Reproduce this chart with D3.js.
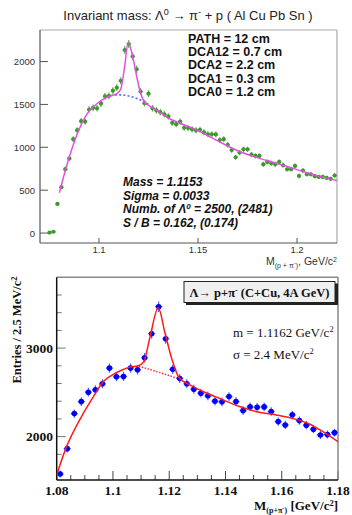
<!DOCTYPE html>
<html><head><meta charset="utf-8">
<script src="https://cdn.jsdelivr.net/npm/d3@7"></script>
<style>body{margin:0;background:#fff}svg{display:block}</style>
</head><body>
<script>
// ---------- Top panel data (bin width 2 MeV) ----------
const topMass = [1.075,1.077,1.079,1.081,1.083,1.085,1.087,1.089,1.091,1.093,1.095,1.097,1.099,1.101,1.103,1.105,1.107,1.109,1.111,1.113,1.115,1.117,1.119,1.121,1.123,1.125,1.127,1.129,1.131,1.133,1.135,1.137,1.139,1.141,1.143,1.145,1.147,1.149,1.151,1.153,1.155,1.157,1.159,1.161,1.163,1.165,1.167,1.169,1.171,1.173,1.175,1.177,1.179,1.181,1.183,1.185,1.187,1.189,1.191,1.193,1.195,1.197,1.199,1.201,1.203,1.205,1.207,1.209,1.211,1.213,1.215,1.217,1.219];
const topCounts = [5,15,340,535,745,870,1095,1200,1305,1300,1440,1460,1455,1510,1595,1600,1660,1695,1775,2135,2205,2060,1910,1650,1515,1625,1455,1430,1410,1385,1360,1285,1270,1300,1228,1225,1210,1198,1205,1175,1152,1152,1150,1085,1095,1030,968,884,938,977,977,915,899,899,802,829,814,802,829,791,744,744,783,666,729,686,686,663,655,655,643,632,671];
const topFitX = [1.080,1.083,1.086,1.090,1.094,1.098,1.102,1.106,1.109,1.111,1.113,1.1147,1.117,1.119,1.121,1.123,1.125,1.130,1.135,1.140,1.150,1.160,1.170,1.180,1.190,1.200,1.210,1.2202];
const topFitY = [470,730,960,1210,1390,1490,1560,1600,1625,1680,1950,2221,2060,1830,1630,1525,1490,1420,1340,1290,1195,1075,960,880,812,740,670,612];
const topBgX = [1.106,1.108,1.111,1.115,1.119,1.122,1.125];
const topBgY = [1600,1610,1612,1598,1570,1540,1500];
const topYTicks = [0,500,1000,1500,2000];
const topXTicks = [1.1,1.15,1.2];
const topXTickLabels = ["1.1","1.15","1.2"];
const topInfo = ["PATH = 12 cm","DCA12 = 0.7 cm","DCA2 = 2.2 cm","DCA1 = 0.3 cm","DCA0 = 1.2 cm"];

// ---------- Bottom panel data (bin width 2.5 MeV) ----------
const botMass = [1.08125,1.08375,1.08625,1.08875,1.09125,1.09375,1.09625,1.09875,1.10125,1.10375,1.10625,1.10875,1.11125,1.11375,1.11625,1.11875,1.12125,1.12375,1.12625,1.12875,1.13125,1.13375,1.13625,1.13875,1.14125,1.14375,1.14625,1.14875,1.15125,1.15375,1.15625,1.15875,1.16125,1.16375,1.16625,1.16875,1.17125,1.17375,1.17625,1.17875];
const botCounts = [1578,1864,2260,2396,2502,2529,2597,2774,2676,2680,2774,2755,2891,3163,3468,3106,2760,2657,2597,2536,2491,2461,2401,2393,2453,2396,2294,2336,2332,2336,2283,2170,2132,2246,2181,2129,2084,2019,2023,2045];
const botFitX = [1.0800,1.0835,1.086,1.0895,1.093,1.0965,1.100,1.103,1.106,1.109,1.111,1.1132,1.1161,1.1185,1.121,1.1235,1.127,1.132,1.138,1.145,1.152,1.158,1.164,1.170,1.1736,1.180];
const botFitY = [1566,1887,2060,2265,2450,2620,2700,2750,2785,2800,2850,3130,3455,3170,2870,2665,2590,2510,2430,2340,2275,2245,2205,2140,2076,1943];
const botBgX = [1.106,1.109,1.112,1.116,1.120,1.124];
const botBgY = [2785,2790,2770,2730,2690,2645];
const botXTicks = [1.08,1.10,1.12,1.14,1.16,1.18];
const botXTickLabels = ["1.08","1.1","1.12","1.14","1.16","1.18"];
const botXMinor = [1.085,1.09,1.095,1.105,1.11,1.115,1.125,1.13,1.135,1.145,1.15,1.155,1.165,1.17,1.175];
const botYTicks = [2000,3000];
const botYMinor = [1600,1800,2200,2400,2600,2800,3200,3400,3600];

const W = 352, H = 515;
const svg = d3.select("body").append("svg").attr("width", W).attr("height", H);
const sans = "'Liberation Sans', Arial, sans-serif";
const serif = "'Liberation Serif', 'Times New Roman', serif";

// ================= TOP PANEL =================
const T = {l:40, r:337, t:30, b:243};
const xT = d3.scaleLinear([1.0702, 1.2202], [T.l, T.r]);
const yT = d3.scaleLinear([-116, 2368], [T.b, T.t]);
const gT = svg.append("g");

// title
const title = gT.append("text").attr("x", 188).attr("y", 20).attr("text-anchor","middle")
  .attr("font-family", sans).attr("font-size", 13).attr("fill","#222");
title.append("tspan").text("Invariant mass: Λ");
title.append("tspan").attr("dy",-5).attr("font-size",9).text("0");
title.append("tspan").attr("dy",5).text(" → π");
title.append("tspan").attr("dy",-5).attr("font-size",9).text("-");
title.append("tspan").attr("dy",5).text(" + p ( Al Cu Pb Sn )");

// frame
gT.append("line").attr("x1",T.l).attr("x2",T.r).attr("y1",T.t).attr("y2",T.t).attr("stroke","#aaa").attr("stroke-width",1.2);
gT.append("line").attr("x1",T.r).attr("x2",T.r).attr("y1",T.t).attr("y2",T.b).attr("stroke","#aaa").attr("stroke-width",1.2);
gT.append("line").attr("x1",T.l).attr("x2",T.l).attr("y1",T.t).attr("y2",T.b).attr("stroke","#555").attr("stroke-width",1.2);
gT.append("line").attr("x1",T.l).attr("x2",T.r).attr("y1",T.b).attr("y2",T.b).attr("stroke","#555").attr("stroke-width",1.2);

// y ticks
gT.selectAll(".yt").data(topYTicks).join("line")
  .attr("x1",T.l).attr("x2",T.l+8).attr("y1",d=>yT(d)).attr("y2",d=>yT(d)).attr("stroke","#555").attr("stroke-width",1);
gT.selectAll(".ytl").data(topYTicks).join("text")
  .attr("x",35).attr("y",d=>yT(d)+3.5).attr("text-anchor","end")
  .attr("font-family",sans).attr("font-size",9.5).attr("fill","#333").text(d=>d);
// x ticks
gT.selectAll(".xt").data(topXTicks).join("line")
  .attr("x1",d=>xT(d)).attr("x2",d=>xT(d)).attr("y1",T.b).attr("y2",T.b-5).attr("stroke","#555").attr("stroke-width",1);
gT.selectAll(".xtl").data(topXTicks).join("text")
  .attr("x",d=>xT(d)).attr("y",253).attr("text-anchor","middle")
  .attr("font-family",sans).attr("font-size",9.5).attr("fill","#333").text((d,i)=>topXTickLabels[i]);
// x axis title
const xtT = gT.append("text").attr("x",T.r).attr("y",265).attr("text-anchor","end")
  .attr("font-family",sans).attr("font-size",10.5).attr("fill","#333");
xtT.append("tspan").text("M");
xtT.append("tspan").attr("dy",3).attr("font-size",7).text("(p + π");
xtT.append("tspan").attr("dy",-3).attr("font-size",6).text("-");
xtT.append("tspan").attr("dy",3).attr("font-size",7).text(")");
xtT.append("tspan").attr("dy",-3).text(", GeV/c");
xtT.append("tspan").attr("dy",-3).attr("font-size",7).text("2");

// clip
svg.append("clipPath").attr("id","clipT").append("rect").attr("x",T.l).attr("y",T.t).attr("width",T.r-T.l).attr("height",T.b-T.t);

const gTd = gT.append("g").attr("clip-path","url(#clipT)");
const topPts = topMass.map((m,i)=>({m, v:topCounts[i]}));
// background dotted
gTd.append("path").datum(topBgX.map((x,i)=>[x,topBgY[i]]))
  .attr("d", d3.line().x(d=>xT(d[0])).y(d=>yT(d[1])).curve(d3.curveMonotoneX))
  .attr("fill","none").attr("stroke","#4a6cf0").attr("stroke-width",1.6).attr("stroke-dasharray","2,2.2");
// points
const tp = gTd.selectAll(".tp").data(topPts).join("g");
tp.append("line").attr("x1",d=>xT(d.m)).attr("x2",d=>xT(d.m))
  .attr("y1",d=>yT(d.v+Math.sqrt(d.v))).attr("y2",d=>yT(d.v-Math.sqrt(d.v)))
  .attr("stroke","#5fb34c").attr("stroke-width",1.2);
tp.append("line").attr("x1",d=>xT(d.m-0.001)).attr("x2",d=>xT(d.m+0.001))
  .attr("y1",d=>yT(d.v)).attr("y2",d=>yT(d.v)).attr("stroke","#5fb34c").attr("stroke-width",1.2);
tp.append("circle").attr("cx",d=>xT(d.m)).attr("cy",d=>yT(d.v)).attr("r",2.1).attr("fill","#3a9a2a");
// fit
gTd.append("path").datum(topFitX.map((x,i)=>[x,topFitY[i]]))
  .attr("d", d3.line().x(d=>xT(d[0])).y(d=>yT(d[1])).curve(d3.curveMonotoneX))
  .attr("fill","none").attr("stroke","#e84de8").attr("stroke-width",1.5);

// info text
gT.selectAll(".info").data(topInfo).join("text")
  .attr("x",188).attr("y",(d,i)=>42.5+i*13.4)
  .attr("font-family",sans).attr("font-size",12.5).attr("font-weight","bold").attr("fill","#111").text(d=>d);

const fitLines = gT.append("g").attr("font-family",sans).attr("font-size",12).attr("font-weight","bold").attr("font-style","italic").attr("fill","#111");
fitLines.append("text").attr("x",123).attr("y",186).text("Mass = 1.1153");
fitLines.append("text").attr("x",123).attr("y",199.5).text("Sigma = 0.0033");
const nb = fitLines.append("text").attr("x",123).attr("y",213);
nb.append("tspan").text("Numb. of  Λ");
nb.append("tspan").attr("dy",-4).attr("font-size",8).text("0");
nb.append("tspan").attr("dy",4).text(" = 2500, (2481)");
fitLines.append("text").attr("x",123).attr("y",226.5).text("S / B = 0.162, (0.174)");

// ================= BOTTOM PANEL =================
const B = {l:56.7, r:338, t:277.3, b:480};
const xB = d3.scaleLinear([1.08, 1.18], [B.l, B.r]);
const yB = d3.scaleLinear([1510, 3800], [B.b, B.t]);
const gB = svg.append("g");

svg.append("clipPath").attr("id","clipB").append("rect").attr("x",B.l).attr("y",B.t).attr("width",B.r-B.l).attr("height",B.b-B.t);

// ticks
gB.selectAll(".bxm").data(botXMinor).join("line")
  .attr("x1",d=>xB(d)).attr("x2",d=>xB(d)).attr("y1",B.b).attr("y2",B.b-5).attr("stroke","#444");
gB.selectAll(".bxM").data(botXTicks).join("line")
  .attr("x1",d=>xB(d)).attr("x2",d=>xB(d)).attr("y1",B.b).attr("y2",B.b-9).attr("stroke","#444");
gB.selectAll(".bym").data(botYMinor).join("line")
  .attr("x1",B.l).attr("x2",B.l+5).attr("y1",d=>yB(d)).attr("y2",d=>yB(d)).attr("stroke","#777");
gB.selectAll(".byM").data(botYTicks).join("line")
  .attr("x1",B.l).attr("x2",B.l+9).attr("y1",d=>yB(d)).attr("y2",d=>yB(d)).attr("stroke","#777");

// frame
gB.append("line").attr("x1",B.l).attr("x2",B.r).attr("y1",B.t).attr("y2",B.t).attr("stroke","#888").attr("stroke-width",1.5);
gB.append("line").attr("x1",B.r).attr("x2",B.r).attr("y1",B.t).attr("y2",B.b).attr("stroke","#888").attr("stroke-width",1.5);
gB.append("line").attr("x1",B.l).attr("x2",B.l).attr("y1",B.t).attr("y2",B.b).attr("stroke","#111").attr("stroke-width",1.5);
gB.append("line").attr("x1",B.l).attr("x2",B.r).attr("y1",B.b).attr("y2",B.b).attr("stroke","#111").attr("stroke-width",1.5);

// labels
gB.selectAll(".bxl").data(botXTicks).join("text")
  .attr("x",d=>xB(d)).attr("y",495).attr("text-anchor","middle")
  .attr("font-family",serif).attr("font-weight","bold").attr("font-size",13.5).attr("fill","#111")
  .text((d,i)=>botXTickLabels[i]);
gB.selectAll(".byl").data(botYTicks).join("text")
  .attr("x",53).attr("y",d=>yB(d)+4.5).attr("text-anchor","end")
  .attr("font-family",serif).attr("font-weight","bold").attr("font-size",13.5).attr("fill","#111").text(d=>d);

const ylab = gB.append("text").attr("transform","translate(21,330) rotate(-90)").attr("text-anchor","middle")
  .attr("font-family",serif).attr("font-weight","bold").attr("font-size",12.5).attr("fill","#111");
ylab.append("tspan").text("Entries / 2.5 MeV/c");
ylab.append("tspan").attr("dy",-4).attr("font-size",8.5).text("2");

const xlab = gB.append("text").attr("x",B.r).attr("y",510).attr("text-anchor","end")
  .attr("font-family",serif).attr("font-weight","bold").attr("font-size",13).attr("fill","#111");
xlab.append("tspan").text("M");
xlab.append("tspan").attr("dy",3).attr("font-size",8).text("(p+π");
xlab.append("tspan").attr("dy",-3).attr("font-size",6.5).text("-");
xlab.append("tspan").attr("dy",3).attr("font-size",8).text(")");
xlab.append("tspan").attr("dy",-3).text(" [GeV/c");
xlab.append("tspan").attr("dy",-4).attr("font-size",8.5).text("2");
xlab.append("tspan").attr("dy",4).text("]");

const gBd = gB.append("g").attr("clip-path","url(#clipB)");
const botPts = botMass.map((m,i)=>({m, v:botCounts[i]}));
gBd.append("path").datum(botBgX.map((x,i)=>[x,botBgY[i]]))
  .attr("d", d3.line().x(d=>xB(d[0])).y(d=>yB(d[1])).curve(d3.curveMonotoneX))
  .attr("fill","none").attr("stroke","#ff3030").attr("stroke-width",1.5).attr("stroke-dasharray","1.5,1.5");
const bp = gBd.selectAll(".bp").data(botPts).join("g");
bp.append("line").attr("x1",d=>xB(d.m)).attr("x2",d=>xB(d.m))
  .attr("y1",d=>yB(d.v+Math.sqrt(d.v))).attr("y2",d=>yB(d.v-Math.sqrt(d.v)))
  .attr("stroke","#4a5cff").attr("stroke-width",1.2);
bp.append("line").attr("x1",d=>xB(d.m-0.00125)).attr("x2",d=>xB(d.m+0.00125))
  .attr("y1",d=>yB(d.v)).attr("y2",d=>yB(d.v)).attr("stroke","#4a5cff").attr("stroke-width",1.2);
bp.append("circle").attr("cx",d=>xB(d.m)).attr("cy",d=>yB(d.v)).attr("r",2.8).attr("fill","#0000ff");
gBd.append("path").datum(botFitX.map((x,i)=>[x,botFitY[i]]))
  .attr("d", d3.line().x(d=>xB(d[0])).y(d=>yB(d[1])).curve(d3.curveMonotoneX))
  .attr("fill","none").attr("stroke","#ff1a1a").attr("stroke-width",1.5);

// legend box
gB.append("rect").attr("x",186).attr("y",283.5).attr("width",152).attr("height",21.5).attr("fill","#222");
gB.append("rect").attr("x",184).attr("y",281.5).attr("width",151).attr("height",21).attr("fill","#f0f0f0").attr("stroke","#222").attr("stroke-width",1);
const lg = gB.append("text").attr("x",259.5).attr("y",296.5).attr("text-anchor","middle")
  .attr("font-family",serif).attr("font-weight","bold").attr("font-size",12.5).attr("fill","#111");
lg.append("tspan").text("Λ→ p+π");
lg.append("tspan").attr("dy",-4).attr("font-size",8).text("-");
lg.append("tspan").attr("dy",4).text(" (C+Cu, 4A GeV)");

const m1 = gB.append("text").attr("x",233).attr("y",337).attr("font-family",serif).attr("font-size",13).attr("fill","#111");
m1.append("tspan").text("m = 1.1162 GeV/c");
m1.append("tspan").attr("dy",-5).attr("font-size",8.5).text("2");
const s1 = gB.append("text").attr("x",233).attr("y",358.5).attr("font-family",serif).attr("font-size",13).attr("fill","#111");
s1.append("tspan").text("σ = 2.4 MeV/c");
s1.append("tspan").attr("dy",-5).attr("font-size",8.5).text("2");
</script>
</body></html>
